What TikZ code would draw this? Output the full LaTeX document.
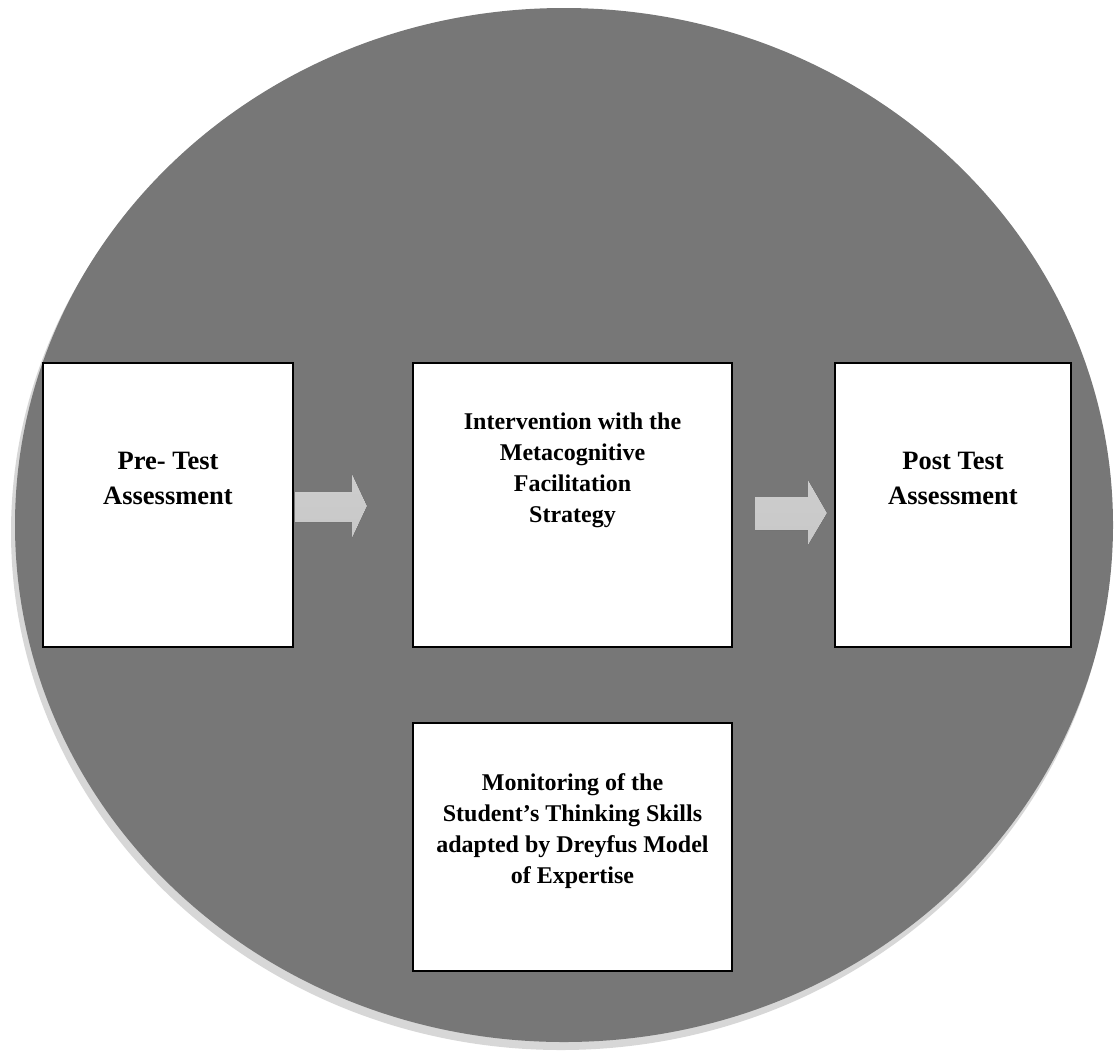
\documentclass[tikz,border=0pt]{standalone}
\usepackage{fontspec}
\setmainfont{Liberation Serif}
\definecolor{circgray}{RGB}{119,119,119}
\definecolor{rimgray}{RGB}{215,215,215}
\definecolor{arrtop}{RGB}{205,205,205}
\definecolor{arrmid}{RGB}{228,228,228}
\definecolor{arrbot}{RGB}{200,200,200}
\begin{document}
\begin{tikzpicture}[x=1pt,y=-1pt,
  stepbox/.style={draw=black, line width=1.5pt, fill=white, inner sep=0pt},
  lbl/.style={font=\fontsize{26.5}{35}\selectfont\bfseries, align=center, anchor=base, inner sep=0pt},
  lbltight/.style={lbl, font=\fontsize{24}{31}\selectfont\bfseries},
  blockarrow/.style={top color=arrtop, middle color=arrmid, bottom color=arrbot, draw=none}]
\useasboundingbox (0,0) rectangle (1118,1061);
% circle with soft rim
\fill[rimgray] (561,532) ellipse [x radius=550, y radius=518];
\fill[circgray] (564,525) ellipse [x radius=549, y radius=517];
% boxes
\node[stepbox, minimum width=250, minimum height=284] (pre) at (168,505) {};
\node[stepbox, minimum width=319, minimum height=284] (int) at (572.5,505) {};
\node[stepbox, minimum width=236, minimum height=284] (post) at (953,505) {};
\node[stepbox, minimum width=319, minimum height=248] (mon) at (572.5,847) {};
% texts (anchor = baseline of last line)
\node[lbl] (pretxt) at (168,504) {Pre- Test\\Assessment};
\node[lbltight] (inttxt) at (572.5,522) {Intervention with the\\Metacognitive\\Facilitation\\Strategy};
\node[lbl] (posttxt) at (953,504) {Post Test\\Assessment};
\node[lbltight] (montxt) at (572.5,883) {Monitoring of the\\Student’s Thinking Skills\\adapted by Dreyfus Model\\of Expertise};
% block arrows
\fill[blockarrow] (295,492) -- (352,492) -- (352,474) -- (367,506) -- (352,538) -- (352,522) -- (295,522) -- cycle;
\fill[blockarrow] (755,497) -- (808,497) -- (808,480) -- (827,513) -- (808,545) -- (808,530) -- (755,530) -- cycle;
\end{tikzpicture}
\end{document}
